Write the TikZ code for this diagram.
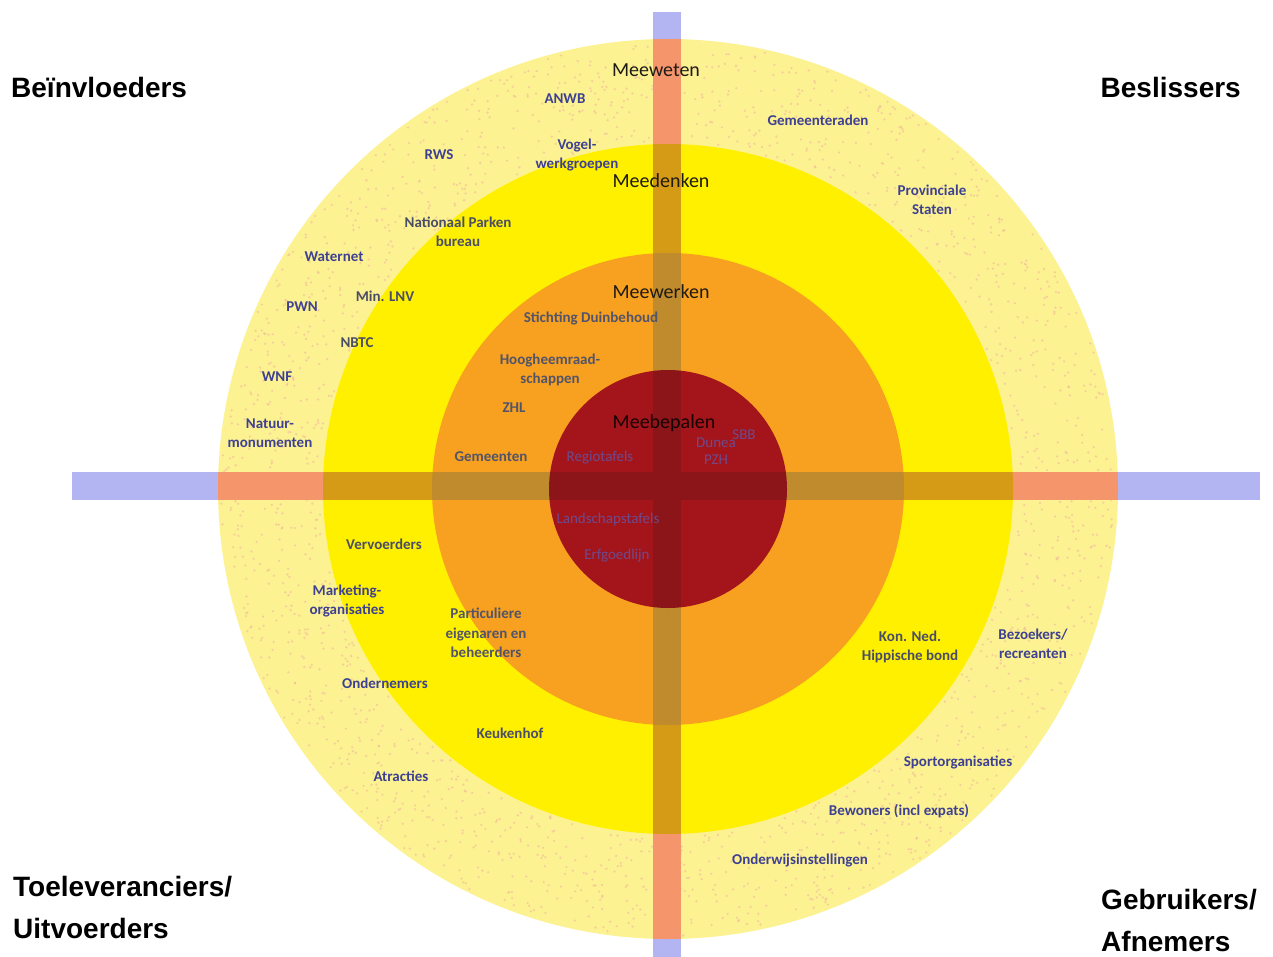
\documentclass[tikz,border=0pt]{standalone}
\usepackage{fontspec}
\usetikzlibrary{calc}
\setmainfont{Carlito}
\newfontfamily\cornerfont{Liberation Sans}
\definecolor{ringout}{HTML}{FCF292}
\definecolor{speck}{HTML}{F2B49E}
\definecolor{ringyel}{HTML}{FFF000}
\definecolor{ringora}{HTML}{F8A01F}
\definecolor{ringred}{HTML}{A3151B}
\definecolor{barblue}{HTML}{B3B5F2}
\definecolor{barout}{HTML}{F4956C}
\definecolor{baryel}{HTML}{D69B16}
\definecolor{barora}{HTML}{C08B2C}
\definecolor{barred}{HTML}{8C1519}
\definecolor{txtout}{HTML}{3E4192}
\definecolor{txtyel}{HTML}{4A4D66}
\definecolor{txtora}{HTML}{52546A}
\definecolor{txtred}{HTML}{6E4A8C}
\definecolor{txtring}{HTML}{1E1A14}
\begin{document}
\begin{tikzpicture}[x=1pt,y=-1pt,
  lbl/.style={font=\fontsize{15}{19.5}\selectfont\bfseries, align=center, inner sep=0pt},
  lout/.style={lbl, text=txtout},
  lyel/.style={lbl, text=txtyel},
  lora/.style={lbl, text=txtora},
  lred/.style={font=\fontsize{15}{17}\selectfont, align=center, inner sep=0pt, text=txtred},
  ringlbl/.style={font=\fontsize{20}{24}\selectfont, inner sep=0pt, text=txtring},
  corner/.style={font=\cornerfont\fontsize{28}{42}\selectfont\bfseries, align=left, inner sep=0pt, text=black}]
\useasboundingbox (0,0) rectangle (1273,957);
\fill[white] (0,0) rectangle (1273,957);
\coordinate (c) at (668,489);
% rings
\fill[ringout] (c) circle[radius=450];
\pgfmathsetseed{7}
\foreach \i in {1,...,1800}{
  \pgfmathsetmacro\ang{rnd*360}
  \pgfmathsetmacro\rad{100*sqrt(3.47*3.47+rnd*(4.47*4.47-3.47*3.47))}
  \fill[speck, opacity=0.55] ($(c)+(\ang:\rad)$) circle[radius=1.3];
}
\fill[ringyel] (c) circle[radius=345];
\fill[ringora] (c) circle[radius=236];
\fill[ringred] (c) circle[radius=119];
% cross bars
\def\vbar{(653,12) rectangle (681,957)}
\def\hbar{(72,472) rectangle (1260,500)}
\fill[barblue] \vbar; \fill[barblue] \hbar;
\begin{scope}\clip (c) circle[radius=450]; \fill[barout] \vbar; \fill[barout] \hbar; \end{scope}
\begin{scope}\clip (c) circle[radius=345]; \fill[baryel] \vbar; \fill[baryel] \hbar; \end{scope}
\begin{scope}\clip (c) circle[radius=236]; \fill[barora] \vbar; \fill[barora] \hbar; \end{scope}
\begin{scope}\clip (c) circle[radius=119]; \fill[barred] \vbar; \fill[barred] \hbar; \end{scope}
% ring titles
\node[ringlbl] (meeweten) at (656,70) {Meeweten};
\node[ringlbl] (meedenken) at (661,181) {Meedenken};
\node[ringlbl] (meewerken) at (661,292) {Meewerken};
\node[ringlbl, text=black!85!ringred] (meebepalen) at (664,423) {Meebepalen};
% outer ring labels
\node[lout] (anwb) at (565,99) {ANWB};
\node[lout] (rws) at (439,155) {RWS};
\node[lout] (vogel) at (577,155) {Vogel-\\werkgroepen};
\node[lout] (gemraden) at (818,120) {Gemeenteraden};
\node[lout] (provstaten) at (932,200) {Provinciale\\Staten};
\node[lout] (waternet) at (334,257) {Waternet};
\node[lout] (pwn) at (302,307) {PWN};
\node[lout] (wnf) at (277,377) {WNF};
\node[lout] (natuurmon) at (270,433) {Natuur-\\monumenten};
\node[lout] (marketing) at (347,601) {Marketing-\\organisaties};
\node[lout] (ondernemers) at (385,683) {Ondernemers};
\node[lout] (atracties) at (401,776) {Atracties};
\node[lout] (bezoekers) at (1033,644) {Bezoekers/\\recreanten};
\node[lout] (sport) at (958,762) {Sportorganisaties};
\node[lout] (bewoners) at (899,811) {Bewoners (incl expats)};
\node[lout] (onderwijs) at (800,860) {Onderwijsinstellingen};
% yellow ring labels
\node[lyel] (nationaal) at (458,232) {Nationaal Parken\\bureau};
\node[lyel] (minlnv) at (385,296) {Min. LNV};
\node[lyel] (nbtc) at (357,343) {NBTC};
\node[lyel] (vervoerders) at (384,544) {Vervoerders};
\node[lyel] (keukenhof) at (510,733) {Keukenhof};
\node[lyel] (konned) at (910,647) {Kon. Ned.\\Hippische bond};
% orange ring labels
\node[lora] (stichting) at (591,318) {Stichting Duinbehoud};
\node[lora] (hoogheem) at (550,370) {Hoogheemraad-\\schappen};
\node[lora] (zhl) at (514,408) {ZHL};
\node[lora] (gemeenten) at (491,457) {Gemeenten};
\node[lora] (particuliere) at (486,633) {Particuliere\\eigenaren en\\beheerders};
% red circle labels
\node[lred] (regiotafels) at (600,458) {Regiotafels};
\node[lred] (sbb) at (744,435) {SBB};
\node[lred] (dunea) at (716,451) {Dunea\\PZH};
\node[lred] (landschap) at (608,519) {Landschapstafels};
\node[lred] (erfgoed) at (617,556) {Erfgoedlijn};
% corner labels
\node[corner, anchor=west] (beinvloeders) at (11,87) {Beïnvloeders};
\node[corner, anchor=east] (beslissers) at (1241,87) {Beslissers};
\node[corner, anchor=west] (toelev) at (13,907) {Toeleveranciers/\\Uitvoerders};
\node[corner, anchor=west] (gebruikers) at (1101,920) {Gebruikers/\\Afnemers};
\end{tikzpicture}
\end{document}
